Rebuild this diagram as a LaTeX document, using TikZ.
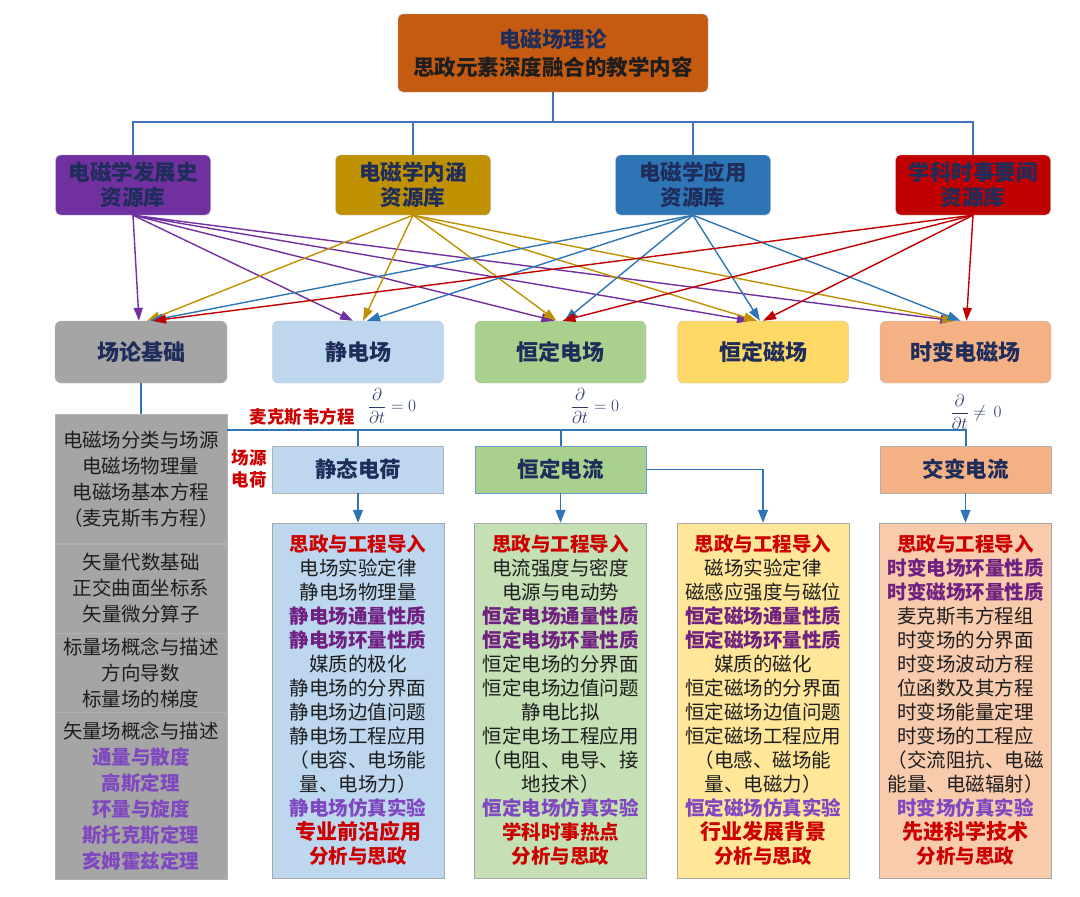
\documentclass[tikz,border=0pt]{standalone}
\usepackage{fontspec}
\setmainfont{Noto Sans CJK SC}
\usepackage{amsmath}
\usepackage{amssymb}
\usepackage{xcolor}
\usetikzlibrary{arrows, arrows.meta, positioning, calc}
\definecolor{TopOr}{RGB}{197,90,17}
\definecolor{Purp}{RGB}{112,48,160}
\definecolor{Gold}{RGB}{191,144,0}
\definecolor{Blu}{RGB}{46,117,182}
\definecolor{Rd}{RGB}{192,0,0}
\definecolor{Navy}{RGB}{31,45,90}
\definecolor{Gry}{RGB}{165,165,165}
\definecolor{LBlu}{RGB}{189,215,238}
\definecolor{LGrn}{RGB}{169,209,142}
\definecolor{LYel}{RGB}{255,217,102}
\definecolor{LOr}{RGB}{244,177,131}
\definecolor{PGrn}{RGB}{197,224,180}
\definecolor{PYel}{RGB}{255,230,153}
\definecolor{POr}{RGB}{248,203,173}
\definecolor{TreeBl}{RGB}{68,114,196}
\definecolor{RedT}{RGB}{204,0,0}
\definecolor{PurD}{RGB}{112,32,128}
\definecolor{PurL}{RGB}{128,72,192}
\definecolor{TxtBlk}{RGB}{30,30,30}
\definecolor{MathC}{RGB}{47,58,110}
\newcommand{\hlred}[1]{\textcolor{RedT}{\bfseries #1}}
\newcommand{\hlpur}[1]{\textcolor{PurD}{\bfseries #1}}
\newcommand{\hlvio}[1]{\textcolor{PurL}{\bfseries #1}}
\newcommand{\hlbig}[1]{{\fontsize{21}{24}\selectfont\hlred{#1}}}
\tikzstyle{topbox} = [
rectangle,
rounded corners=5pt,
minimum width=310pt,
minimum height=78pt,
align=center,
draw=gray!60,
fill=TopOr,
text=TxtBlk,
font=\fontsize{21.5}{28}\selectfont\bfseries
]
\tikzstyle{libbox} = [
rectangle,
rounded corners=5pt,
minimum width=155pt,
minimum height=60pt,
align=center,
draw=gray!50,
text=Navy,
font=\fontsize{21.5}{25}\selectfont\bfseries
]
\tikzstyle{topicbox} = [
rectangle,
rounded corners=6pt,
minimum width=171pt,
minimum height=62pt,
draw=gray!50,
text=Navy,
font=\fontsize{22}{26}\selectfont\bfseries
]
\tikzstyle{srcbox} = [
rectangle,
minimum width=171pt,
minimum height=47pt,
draw=gray!60,
text=Navy,
font=\fontsize{21.5}{26}\selectfont\bfseries
]
\tikzstyle{listbox} = [
rectangle,
minimum width=172pt,
minimum height=355pt,
inner sep=0pt,
align=center,
draw=gray!70,
text=TxtBlk,
font=\fontsize{19.5}{24}\selectfont
]
\tikzstyle{secbox} = [
rectangle,
minimum width=172pt,
inner sep=0pt,
align=center,
draw=gray!60,
fill=Gry,
text=TxtBlk,
font=\fontsize{19.5}{26}\selectfont
]
\tikzstyle{redtag} = [align=center, text=RedT, font=\fontsize{17.5}{22}\selectfont\bfseries]
\tikzstyle{dtlabel} = [text=MathC, inner sep=0pt, font=\fontsize{17}{20}\selectfont]
\tikzstyle{trunk} = [line width=2pt, draw=TreeBl]
\tikzstyle{libarrow} = [-{Triangle[length=13pt,width=9pt]}, line width=1.4pt]
\tikzstyle{feedarrow} = [-{Triangle[length=13pt,width=10pt]}, line width=1.6pt, draw=Blu]
\begin{document}
\begin{tikzpicture}[x=1pt, y=-1pt, node distance=280pt]
\useasboundingbox (0,0) rectangle (1080,897);
\node (theory) [topbox] at (553,53) {\textcolor{Navy}{电磁场理论}\\思政元素深度融合的教学内容};
\node (lib1) [libbox, fill=Purp] at (133,185) {电磁学发展史\\资源库};
\node (lib2) [libbox, fill=Gold, right of=lib1] {电磁学内涵\\资源库};
\node (lib3) [libbox, fill=Blu, right of=lib2] {电磁学应用\\资源库};
\node (lib4) [libbox, fill=Rd, right of=lib3] {学科时事要闻\\资源库};
\coordinate (bus) at ([yshift=-30pt]theory.south);
\draw [trunk] (theory.south) -- (bus);
\draw [trunk] (bus) -| (lib1.north);
\draw [trunk] (bus) -| (lib2.north);
\draw [trunk] (bus) -| (lib3.north);
\draw [trunk] (bus) -| (lib4.north);
% topic row
\node (field0) [topicbox, fill=Gry, minimum width=172pt] at (141,352) {场论基础};
\node (field1) [topicbox, fill=LBlu] at (358,352) {静电场};
\begin{scope}[node distance=202.5pt]
\node (field2) [topicbox, fill=LGrn, right of=field1] {恒定电场};
\node (field3) [topicbox, fill=LYel, right of=field2] {恒定磁场};
\node (field4) [topicbox, fill=LOr, right of=field3] {时变电磁场};
\end{scope}
% resource links
\draw [libarrow, Purp] (lib1.south) -- ([xshift=-2pt]field0.north);
\draw [libarrow, Purp] (lib1.south) -- ([xshift=-5pt]field1.north);
\draw [libarrow, Purp] (lib1.south) -- ([xshift=-6pt]field2.north);
\draw [libarrow, Purp] (lib1.south) -- ([xshift=-13pt]field3.north);
\draw [libarrow, Purp] (lib1.south) -- ([xshift=-12pt]field4.north);
\draw [libarrow, Gold] (lib2.south) -- ([xshift=6pt]field0.north);
\draw [libarrow, Gold] (lib2.south) -- ([xshift=5pt]field1.north);
\draw [libarrow, Gold] (lib2.south) -- ([xshift=-4pt]field2.north);
\draw [libarrow, Gold] (lib2.south) -- ([xshift=-6pt]field3.north);
\draw [libarrow, Gold] (lib2.south) -- ([xshift=-10pt]field4.north);
\draw [libarrow, Blu] (lib3.south) -- ([xshift=9pt]field0.north);
\draw [libarrow, Blu] (lib3.south) -- ([xshift=9pt]field1.north);
\draw [libarrow, Blu] (lib3.south) -- ([xshift=4pt]field2.north);
\draw [libarrow, Blu] (lib3.south) -- ([xshift=-3pt]field3.north);
\draw [libarrow, Blu] (lib3.south) -- ([xshift=-5pt]field4.north);
\draw [libarrow, Rd] (lib4.south) -- ([xshift=12pt]field0.north);
\draw [libarrow, Rd] (lib4.south) -- ([xshift=2pt]field2.north);
\draw [libarrow, Rd] (lib4.south) -- ([xshift=0pt]field3.north);
\draw [libarrow, Rd] (lib4.south) -- ([xshift=1pt]field4.north);
% field theory basics
\node (sec1) [secbox, minimum height=129pt, below=31pt of field0] {电磁场分类与场源\\电磁场物理量\\电磁场基本方程\\（麦克斯韦方程）};
\node (sec2) [secbox, minimum height=89pt, below=0pt of sec1] {矢量代数基础\\正交曲面坐标系\\矢量微分算子};
\node (sec3) [secbox, minimum height=79pt, below=0pt of sec2] {标量场概念与描述\\方向导数\\标量场的梯度};
\node (sec4) [secbox, minimum height=167pt, below=0pt of sec3] {矢量场概念与描述\\\hlvio{通量与散度}\\\hlvio{高斯定理}\\\hlvio{环量与旋度}\\\hlvio{斯托克斯定理}\\\hlvio{亥姆霍兹定理}};
\draw [line width=1.5pt, draw=Blu] (field0) -- (sec1);
% sources
\begin{scope}[node distance=117.5pt]
\node (chg1) [srcbox, fill=LBlu, below of=field1] {静态电荷};
\node (chg2) [srcbox, fill=LGrn, below of=field2, draw=Blu!70] {恒定电流};
\node (chg3) [srcbox, fill=LOr, below of=field4] {交变电流};
\end{scope}
\coordinate (mbus) at ([yshift=-16pt]sec1.north east);
\draw [line width=2pt, draw=Blu] (mbus) -| (chg3.north);
\draw [line width=2pt, draw=Blu] (mbus) -| (chg1.north);
\draw [line width=2pt, draw=Blu] (mbus) -| (chg2.north);
\node (maxw) [redtag] at (302,417) {麦克斯韦方程};
\node (srcs) [redtag] at (249,469) {场源\\电荷};
\node (dt1) [dtlabel] at (392,406) {$\dfrac{\partial}{\partial t}=0$};
\node (dt2) [dtlabel] at (595,406) {$\dfrac{\partial}{\partial t}=0$};
\node (dt3) [dtlabel] at (976,412) {$\dfrac{\partial}{\partial t}\neq\, 0$};
% teaching contents
\begin{scope}[node distance=231pt]
\node (text1) [listbox, fill=LBlu, below of=chg1] {\hlred{思政与工程导入}\\电场实验定律\\静电场物理量\\\hlpur{静电场通量性质}\\\hlpur{静电场环量性质}\\媒质的极化\\静电场的分界面\\静电场边值问题\\静电场工程应用\\（电容、电场能\\量、电场力）\\\hlvio{静电场仿真实验}\\\hlbig{专业前沿应用}\\\hlred{分析与思政}};
\node (text2) [listbox, fill=PGrn, below of=chg2] {\hlred{思政与工程导入}\\电流强度与密度\\电源与电动势\\\hlpur{恒定电场通量性质}\\\hlpur{恒定电场环量性质}\\恒定电场的分界面\\恒定电场边值问题\\静电比拟\\恒定电场工程应用\\（电阻、电导、接\\地技术）\\\hlvio{恒定电场仿真实验}\\\hlred{学科时事热点}\\\hlred{分析与思政}};
\node (text4) [listbox, fill=POr, below of=chg3] {\hlred{思政与工程导入}\\\hlpur{时变电场环量性质}\\\hlpur{时变磁场环量性质}\\麦克斯韦方程组\\时变场的分界面\\时变场波动方程\\位函数及其方程\\时变场能量定理\\时变场的工程应\\（交流阻抗、电磁\\能量、电磁辐射）\\\hlvio{时变场仿真实验}\\\hlbig{先进科学技术}\\\hlred{分析与思政}};
\end{scope}
\node (text3) [listbox, fill=PYel] at (field3 |- text2) {\hlred{思政与工程导入}\\磁场实验定律\\磁感应强度与磁位\\\hlpur{恒定磁场通量性质}\\\hlpur{恒定磁场环量性质}\\媒质的磁化\\恒定磁场的分界面\\恒定磁场边值问题\\恒定磁场工程应用\\（电感、磁场能\\量、电磁力）\\\hlvio{恒定磁场仿真实验}\\\hlbig{行业发展背景}\\\hlred{分析与思政}};
\draw [feedarrow] (chg1) -- (text1);
\draw [feedarrow] (chg2) -- (text2);
\draw [feedarrow] (chg2.east) -| (text3.north);
\draw [feedarrow] (chg3) -- (text4);
\end{tikzpicture}
\end{document}
